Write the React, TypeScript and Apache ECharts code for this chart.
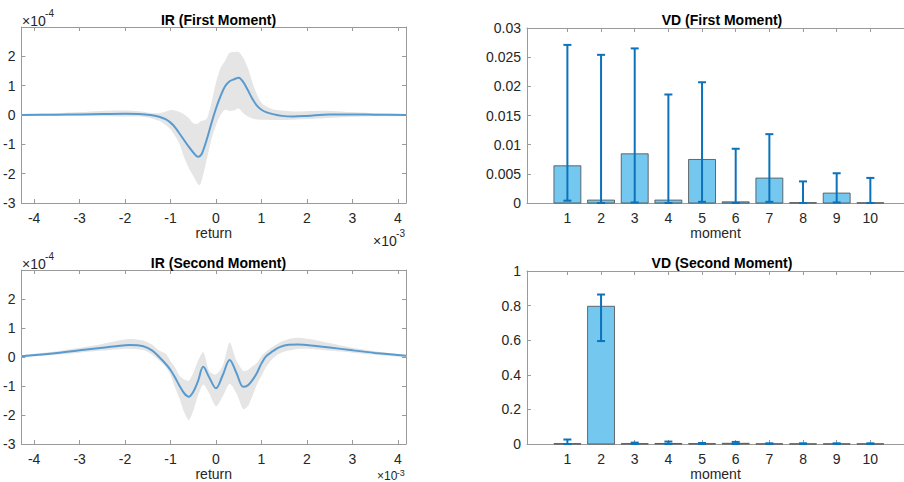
import React, { useEffect, useRef } from "react";
import * as echarts from "echarts";

// ---- axis ticks ----
const returnTicks = [-4, -3, -2, -1, 0, 1, 2, 3, 4];
const irTicks = [-3, -2, -1, 0, 1, 2];
const momentTicks = [1, 2, 3, 4, 5, 6, 7, 8, 9, 10];

// ---- IR (first moment): return in 1e-3, response in 1e-4 ----
const irFirstX = [-4.28, -3.5, -3, -2.5, -2, -1.7, -1.45, -1.25, -1.1, -1.0, -0.9, -0.8, -0.7, -0.6, -0.5, -0.4, -0.35, -0.3, -0.2, -0.1, 0, 0.1, 0.2, 0.3, 0.4, 0.5, 0.6, 0.7, 0.8, 0.9, 1.0, 1.1, 1.25, 1.45, 1.7, 2.0, 2.5, 3, 3.5, 4.18];
const irFirstMean = [0.0, 0.01, 0.02, 0.03, 0.04, 0.03, 0.0, -0.06, -0.15, -0.26, -0.42, -0.64, -0.86, -1.08, -1.28, -1.42, -1.4, -1.28, -0.82, -0.28, 0.22, 0.64, 0.98, 1.15, 1.22, 1.27, 1.12, 0.85, 0.55, 0.32, 0.18, 0.1, 0.03, -0.03, -0.05, -0.03, 0.02, 0.02, 0.01, 0.0];
const irFirstUpper = [0.03, 0.06, 0.1, 0.14, 0.15, 0.13, 0.08, 0.06, 0.12, 0.17, 0.15, 0.1, 0.02, -0.1, -0.28, -0.3, -0.22, -0.2, -0.12, 0.42, 1.1, 1.6, 1.85, 2.12, 2.15, 2.15, 1.95, 1.6, 1.12, 0.7, 0.42, 0.3, 0.2, 0.15, 0.12, 0.13, 0.14, 0.1, 0.06, 0.03];
const irFirstLower = [-0.03, -0.03, -0.03, -0.04, -0.05, -0.05, -0.1, -0.2, -0.35, -0.49, -0.72, -1.0, -1.45, -1.8, -2.08, -2.35, -2.38, -2.15, -1.5, -0.83, -0.35, 0.0, 0.18, 0.14, 0.16, 0.22, 0.06, -0.05, -0.12, -0.15, -0.16, -0.16, -0.17, -0.17, -0.16, -0.14, -0.1, -0.06, -0.04, -0.03];

// ---- IR (second moment) ----
const irSecondX = [-4.28, -3.5, -3, -2.5, -2.2, -1.9, -1.6, -1.4, -1.25, -1.1, -1.0, -0.9, -0.8, -0.7, -0.6, -0.5, -0.4, -0.28, -0.15, 0, 0.15, 0.3, 0.45, 0.6, 0.7, 0.8, 0.9, 1.0, 1.1, 1.25, 1.4, 1.6, 1.8, 2.2, 2.5, 3, 3.5, 4.18];
const irSecondMean = [0.03, 0.14, 0.23, 0.32, 0.37, 0.41, 0.37, 0.22, 0.0, -0.25, -0.45, -0.71, -1.0, -1.25, -1.37, -1.2, -0.85, -0.34, -0.7, -1.08, -0.62, -0.1, -0.55, -1.03, -0.98, -0.8, -0.55, -0.22, 0.02, 0.2, 0.34, 0.42, 0.43, 0.38, 0.33, 0.23, 0.14, 0.04];
const irSecondUpper = [0.06, 0.2, 0.32, 0.45, 0.55, 0.62, 0.57, 0.42, 0.22, 0.1, -0.15, -0.36, -0.65, -0.78, -0.82, -0.55, -0.15, 0.17, -0.48, -0.6, -0.3, 0.5, -0.12, -0.48, -0.45, -0.32, -0.2, 0.03, 0.18, 0.35, 0.5, 0.62, 0.66, 0.58, 0.48, 0.32, 0.2, 0.06];
const irSecondLower = [0.0, 0.08, 0.15, 0.22, 0.26, 0.28, 0.24, 0.08, -0.12, -0.35, -0.62, -1.05, -1.45, -1.9, -2.18, -1.85, -1.35, -0.95, -1.25, -1.7, -1.35, -0.92, -1.25, -1.8, -1.7, -1.35, -0.95, -0.65, -0.35, -0.05, 0.12, 0.22, 0.28, 0.26, 0.22, 0.15, 0.08, 0.0];

// ---- VD (first moment) ----
const vdFirst = [0.00638, 0.0005, 0.00843, 0.0005, 0.00746, 0.0002, 0.00427, 0.00005, 0.0017, 0.00003];
const vdFirstLow = [0.0004, 0.0, 0.0001, 0.0, 0.0002, 0.0, 0.0002, 0.0, 0.0001, 0.0];
const vdFirstHigh = [0.0271, 0.0254, 0.0265, 0.0186, 0.0207, 0.0093, 0.0118, 0.0037, 0.0051, 0.0043];

// ---- VD (second moment) ----
const vdSecond = [0.002, 0.796, 0.002, 0.003, 0.002, 0.004, 0.001, 0.001, 0.001, 0.001];
const vdSecondLow = [0.0, 0.595, 0.0, 0.0, 0.0, 0.0, 0.0, 0.0, 0.0, 0.0];
const vdSecondHigh = [0.026, 0.864, 0.008, 0.014, 0.006, 0.012, 0.004, 0.004, 0.004, 0.004];

const FONT = "'Liberation Sans', Arial, Helvetica, sans-serif";
const AXIS_COLOR = "#9a9a9a";
const TEXT_COLOR = "#262626";
const LINE_COLOR = "#5a9bcf";
const BAND_COLOR = "#e5e5e5";
const BAR_FILL = "#74c7ee";
const BAR_EDGE = "#4a4a4a";
const ERR_COLOR = "#0b72bb";

const GRIDS = [
  { left: 21, top: 27, width: 385, height: 176 },
  { left: 527, top: 28, width: 380, height: 175 },
  { left: 21, top: 270, width: 385, height: 175 },
  { left: 527, top: 271, width: 380, height: 174 },
];

const pairs = (xs: number[], ys: number[]) => xs.map((x, i) => [x, ys[i]]);

function frameAxis(gridIndex: number, position: string, min: number, max: number, ticks: number[] | null, interval?: number) {
  return {
    type: "value",
    gridIndex,
    position,
    min,
    max,
    interval,
    axisLine: { show: true, onZero: false, lineStyle: { color: AXIS_COLOR, width: 1 } },
    axisTick: ticks
      ? { show: true, inside: true, length: 4, customValues: ticks, lineStyle: { color: AXIS_COLOR } }
      : { show: true, inside: true, length: 4, lineStyle: { color: AXIS_COLOR } },
    axisLabel: { show: false },
    splitLine: { show: false },
  };
}

function labelledAxis(
  gridIndex: number,
  position: string,
  min: number,
  max: number,
  ticks: number[] | null,
  interval?: number,
  name?: string,
  formatter?: (v: number) => string
) {
  const base: any = frameAxis(gridIndex, position, min, max, ticks, interval);
  base.axisLabel = {
    show: true,
    color: TEXT_COLOR,
    fontFamily: FONT,
    fontSize: 14,
    margin: position === "left" ? 6 : 8,
    formatter: formatter || ((v: number) => String(v)),
  };
  if (ticks) base.axisLabel.customValues = ticks;
  if (name) {
    base.name = name;
    base.nameLocation = "middle";
    base.nameGap = 23;
    base.nameTextStyle = { color: TEXT_COLOR, fontFamily: FONT, fontSize: 14 };
  }
  return base;
}

// Shaded confidence band: one polygon through all [x, lower, upper] rows,
// upper edge left to right, then lower edge right to left.
function renderBand(params: any, api: any) {
  if (params.dataIndexInside !== 0) return null;
  const n = params.dataInsideLength;
  const top: number[][] = [];
  const bottom: number[][] = [];
  for (let i = 0; i < n; i++) {
    const x = api.value(0, i);
    top.push(api.coord([x, api.value(2, i)]));
    bottom.push(api.coord([x, api.value(1, i)]));
  }
  return {
    type: "polygon",
    shape: { points: top.concat(bottom.reverse()), smooth: 0.25 },
    style: { fill: BAND_COLOR, stroke: null },
  };
}

function bandSeries(xAxisIndex: number, yAxisIndex: number, xs: number[], lo: number[], hi: number[], mean: number[]) {
  return [
    {
      type: "custom",
      xAxisIndex,
      yAxisIndex,
      renderItem: renderBand,
      encode: { x: 0, y: [1, 2] },
      data: xs.map((x, i) => [x, lo[i], hi[i]]),
      silent: true,
      z: 1,
    },
    {
      type: "line",
      xAxisIndex,
      yAxisIndex,
      data: pairs(xs, mean),
      smooth: 0.35,
      symbol: "none",
      lineStyle: { color: LINE_COLOR, width: 2 },
      z: 3,
    },
  ];
}

function renderBar(params: any, api: any) {
  const x = api.value(0);
  const v = api.value(1);
  const p0 = api.coord([x - 0.4, 0]);
  const p1 = api.coord([x + 0.4, v]);
  return {
    type: "rect",
    shape: { x: p0[0], y: p1[1], width: p1[0] - p0[0], height: p0[1] - p1[1] },
    style: { fill: BAR_FILL, stroke: BAR_EDGE, lineWidth: 0.8 },
  };
}

function renderErrorBar(params: any, api: any) {
  const x = api.value(0);
  const lo = api.coord([x, api.value(1)]);
  const hi = api.coord([x, api.value(2)]);
  const cap = 4;
  const style = { stroke: ERR_COLOR, lineWidth: 2, fill: null };
  return {
    type: "group",
    children: [
      { type: "line", shape: { x1: lo[0], y1: lo[1], x2: hi[0], y2: hi[1] }, style },
      { type: "line", shape: { x1: hi[0] - cap, y1: hi[1], x2: hi[0] + cap, y2: hi[1] }, style },
      { type: "line", shape: { x1: lo[0] - cap, y1: lo[1], x2: lo[0] + cap, y2: lo[1] }, style },
    ],
  };
}

function vdSeries(xAxisIndex: number, yAxisIndex: number, vals: number[], lo: number[], hi: number[]) {
  return [
    {
      type: "custom",
      xAxisIndex,
      yAxisIndex,
      renderItem: renderBar,
      encode: { x: 0, y: 1 },
      data: momentTicks.map((m, i) => [m, vals[i]]),
      z: 2,
    },
    {
      type: "custom",
      xAxisIndex,
      yAxisIndex,
      renderItem: renderErrorBar,
      encode: { x: 0, y: [1, 2] },
      data: momentTicks.map((m, i) => [m, lo[i], hi[i]]),
      z: 3,
    },
  ];
}

const trimNum = (v: number) => String(+v.toFixed(4));

// "×10" with a raised exponent
function exponentLabel(x: number, y: number, exp: string, size = 14, supSize = 10, supRise = 6) {
  return [
    { type: "text", left: x, top: y, style: { text: "×10", font: `${size}px ${FONT}`, fill: TEXT_COLOR } },
    { type: "text", left: x + size * 1.65, top: y - supRise, style: { text: exp, font: `${supSize}px ${FONT}`, fill: TEXT_COLOR } },
  ];
}

function titleOf(text: string, grid: { left: number; width: number }, top: number) {
  return {
    text,
    left: grid.left + grid.width / 2,
    top,
    textAlign: "center",
    textStyle: { fontFamily: FONT, fontSize: 14, fontWeight: "bold", color: "#000" },
  };
}

export default function App() {
  const ref = useRef<HTMLDivElement>(null);

  useEffect(() => {
    if (!ref.current) return;
    const chart = echarts.init(ref.current, null, { renderer: "svg" });

    const option: any = {
      animation: false,
      backgroundColor: "#ffffff",
      title: [
        titleOf("IR (First Moment)", GRIDS[0], 8),
        titleOf("VD (First Moment)", { left: GRIDS[1].left, width: 380 }, 8),
        titleOf("IR (Second Moment)", GRIDS[2], 251),
        titleOf("VD (Second Moment)", { left: GRIDS[3].left, width: 380 }, 251),
      ],
      grid: GRIDS.map((g) => ({ ...g, containLabel: false })),
      xAxis: [
        labelledAxis(0, "bottom", -4.28, 4.18, returnTicks, undefined, "return"),
        frameAxis(0, "top", -4.28, 4.18, returnTicks),
        labelledAxis(1, "bottom", -0.2, 11, momentTicks, undefined, "moment"),
        frameAxis(1, "top", -0.2, 11, momentTicks),
        labelledAxis(2, "bottom", -4.28, 4.18, returnTicks, undefined, "return"),
        frameAxis(2, "top", -4.28, 4.18, returnTicks),
        labelledAxis(3, "bottom", -0.2, 11, momentTicks, undefined, "moment"),
        frameAxis(3, "top", -0.2, 11, momentTicks),
      ],
      yAxis: [
        labelledAxis(0, "left", -3, 3, irTicks),
        frameAxis(0, "right", -3, 3, irTicks),
        labelledAxis(1, "left", 0, 0.03, null, 0.005, undefined, trimNum),
        labelledAxis(2, "left", -3, 3, irTicks),
        frameAxis(2, "right", -3, 3, irTicks),
        labelledAxis(3, "left", 0, 1, null, 0.2, undefined, trimNum),
      ],
      series: [
        ...bandSeries(0, 0, irFirstX, irFirstLower, irFirstUpper, irFirstMean),
        ...vdSeries(2, 2, vdFirst, vdFirstLow, vdFirstHigh),
        ...bandSeries(4, 3, irSecondX, irSecondLower, irSecondUpper, irSecondMean),
        ...vdSeries(6, 5, vdSecond, vdSecondLow, vdSecondHigh),
      ],
      graphic: [
        ...exponentLabel(22, 14, "-4"),
        ...exponentLabel(373, 234, "-3"),
        ...exponentLabel(22, 257, "-4"),
        ...exponentLabel(377, 470, "-3", 12, 9, 2),
      ],
    };

    chart.setOption(option);
    return () => chart.dispose();
  }, []);

  return (
    <div
      ref={ref}
      style={{ position: "fixed", left: 0, top: 0, width: 904, height: 482, background: "#fff" }}
    />
  );
}
